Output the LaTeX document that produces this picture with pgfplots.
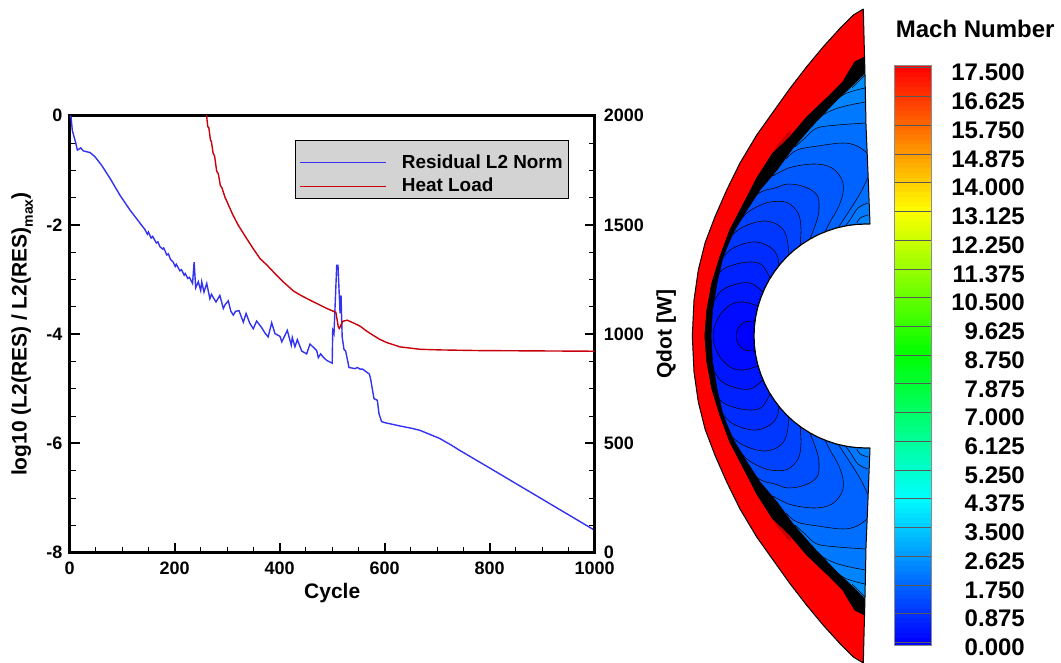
\documentclass[border=0pt]{standalone}
\usepackage{fontspec}
\setmainfont{Liberation Sans}
\usepackage{pgfplots}
\pgfplotsset{compat=1.18}
\definecolor{lvb}{RGB}{0,154,255}
\definecolor{lvn}{RGB}{0,143,255}
\definecolor{lvm}{RGB}{0,132,255}
\definecolor{lvl}{RGB}{0,121,255}
\definecolor{lvk}{RGB}{0,110,255}
\definecolor{lvj}{RGB}{0,99,255}
\definecolor{lvi}{RGB}{0,88,255}
\definecolor{lvh}{RGB}{0,77,255}
\definecolor{lvg}{RGB}{0,66,255}
\definecolor{lvf}{RGB}{0,55,255}
\definecolor{lve}{RGB}{0,44,255}
\definecolor{lvd}{RGB}{0,33,255}
\definecolor{lvc}{RGB}{0,22,255}
\definecolor{lvbb}{RGB}{0,11,255}
\definecolor{lva}{RGB}{0,0,255}
\definecolor{resblue}{RGB}{50,50,240}
\definecolor{heatred}{RGB}{200,0,10}
\newcommand{\fs}[1]{\fontsize{#1}{#1}\selectfont\bfseries}
\pgfplotsset{lev/.style={draw=none,fill=#1,mark=none,forget plot},
 cl/.style={smooth,tension=.6,black,line width=.55pt,mark=none,forget plot},
 mask/.style={draw=none,fill=white,mark=none,forget plot},
 lineaxis/.style={scale only axis,anchor=south west,at={(69.7pt,110.3pt)},width=525pt,height=437pt,
  xmin=0,xmax=1000,
  axis line style={line width=2.5pt},
  tick align=inside,major tick length=10pt,minor tick length=6pt,
  major tick style={black,line width=2pt},minor tick style={black,line width=1pt},
  /pgf/number format/assume math mode=true,/pgf/number format/1000 sep={},
  ticklabel style={font=\fs{18},inner sep=0pt},
  label style={font=\fs{21}}}}
\begin{document}
\begin{tikzpicture}
\path[use as bounding box] (0,0) rectangle (1061pt,663pt);
% contour field, in picture pixels
\begin{axis}[scale only axis,anchor=south west,at={(0pt,0pt)},width=1061pt,height=663pt,
 xmin=0,xmax=1061,ymin=0,ymax=663,y dir=reverse,hide axis]
\addplot[lev=lvb] coordinates {(865,60)(870,224)(870,448)(865,612)(685,612)(685,60)(865,60)};
\addplot[lev=lvn] coordinates {(868,224)(870,221)(868,173)(866,125)(865,75)(858,82)(852,88)(685,88)(685,584)(852,584)(858,590)(865,597)(866,547)(868,499)(870,451)(868,448)(868,224)};
\addplot[lev=lvm] coordinates {(864,224)(870,219)(868,173)(866,125)(865,88)(847,93)(833,102)(824,113)(685,113)(685,559)(824,559)(833,570)(847,579)(865,584)(866,547)(868,499)(870,453)(864,448)(864,224)};
\addplot[lev=lvl] coordinates {(857,223)(860,218)(868,215)(868,173)(866,125)(865,102)(838,108)(820,117)(812,127)(685,127)(685,545)(812,545)(820,555)(838,564)(865,570)(866,547)(868,499)(868,457)(860,454)(857,449)(857,223)};
\addplot[lev=lvk] coordinates {(846,225)(850,220)(858,208)(868,203)(868,173)(866,123)(838,125)(817,128)(805,138)(795,147)(685,147)(685,525)(795,525)(805,534)(817,544)(838,547)(866,549)(868,499)(868,469)(858,464)(850,452)(846,447)(846,225)};
\addplot[lev=lvj] coordinates {(838,228)(853,205)(862,190)(868,177)(867,153)(857,146)(843,143)(818,146)(797,150)(786,159)(685,159)(685,513)(786,513)(797,522)(818,526)(843,529)(857,526)(867,519)(868,495)(862,482)(853,467)(838,444)(838,228)};
\addplot[lev=lvi] coordinates {(825,232)(830,222)(838,208)(843,193)(842,180)(832,168)(815,164)(792,167)(780,172)(773,176)(685,176)(685,496)(773,496)(780,500)(792,505)(815,508)(832,504)(842,492)(843,479)(838,464)(830,450)(825,440)(825,232)};
\addplot[lev=lvh] coordinates {(810,239)(817,220)(819,208)(817,195)(805,187)(788,184)(775,188)(763,191)(752,198)(749,203)(685,203)(685,469)(749,469)(752,474)(763,481)(775,484)(788,488)(805,485)(817,477)(819,464)(817,452)(810,433)(810,239)};
\addplot[lev=lvg] coordinates {(800,246)(801,228)(798,213)(788,203)(775,201.5)(763,204)(748,212)(739,222)(685,222)(685,450)(739,450)(748,460)(763,468)(775,470.5)(788,469)(798,459)(801,444)(800,426)(800,246)};
\addplot[lev=lvf] coordinates {(789,255)(786,235)(778,225)(765,221)(750,224)(738,230)(730,238)(727,244)(685,244)(685,428)(727,428)(730,434)(738,442)(750,448)(765,451)(778,447)(786,437)(789,417)(789,255)};
\addplot[lev=lve] coordinates {(779,266)(777,255)(770,247)(757,242)(743,244)(730,250)(723,258)(720,262)(685,262)(685,410)(720,410)(723,414)(730,422)(743,428)(757,430)(770,425)(777,417)(779,406)(779,266)};
\addplot[lev=lvd] coordinates {(770,278)(762,265)(750,262)(733,265)(720,272)(713,288)(685,288)(685,384)(713,384)(720,400)(733,407)(750,410)(762,407)(770,394)(770,278)};
\addplot[lev=lvc] coordinates {(763,292)(750,283)(733,285)(720,292)(712,305)(685,305)(685,367)(712,367)(720,380)(733,387)(750,389)(763,380)(763,292)};
\addplot[lev=lvbb] coordinates {(758,306)(743,302)(730,305)(718,318)(713,336)(718,354)(730,367)(743,370)(758,366)(758,306)};
\addplot[lev=lva] coordinates {(755,321)(745,322)(739,327)(736,336)(739,345)(745,350)(755,351)(755,321)};
% contour lines
\addplot[cl] coordinates {(865,75)(858,82)(852,88)};
\addplot[cl] coordinates {(865,597)(858,590)(852,584)};
\addplot[cl] coordinates {(865,88)(847,93)(833,102)(824,113)};
\addplot[cl] coordinates {(865,584)(847,579)(833,570)(824,559)};
\addplot[cl] coordinates {(865,102)(838,108)(820,117)(812,127)};
\addplot[cl] coordinates {(865,570)(838,564)(820,555)(812,545)};
\addplot[cl] coordinates {(857,223)(860,218)(868,215)};
\addplot[cl] coordinates {(857,449)(860,454)(868,457)};
\addplot[cl] coordinates {(866,123)(838,125)(817,128)(805,138)(795,147)};
\addplot[cl] coordinates {(866,549)(838,547)(817,544)(805,534)(795,525)};
\addplot[cl] coordinates {(846,225)(850,220)(858,208)(868,203)};
\addplot[cl] coordinates {(846,447)(850,452)(858,464)(868,469)};
\addplot[cl] coordinates {(867,153)(857,146)(843,143)(818,146)(797,150)(786,159)};
\addplot[cl] coordinates {(867,519)(857,526)(843,529)(818,526)(797,522)(786,513)};
\addplot[cl] coordinates {(838,228)(853,205)(862,190)(868,177)};
\addplot[cl] coordinates {(838,444)(853,467)(862,482)(868,495)};
\addplot[cl] coordinates {(825,232)(830,222)(838,208)(843,193)(842,180)(832,168)(815,164)(792,167)(780,172)(773,176)};
\addplot[cl] coordinates {(825,440)(830,450)(838,464)(843,479)(842,492)(832,504)(815,508)(792,505)(780,500)(773,496)};
\addplot[cl] coordinates {(810,239)(817,220)(819,208)(817,195)(805,187)(788,184)(775,188)(763,191)(752,198)(749,203)};
\addplot[cl] coordinates {(810,433)(817,452)(819,464)(817,477)(805,485)(788,488)(775,484)(763,481)(752,474)(749,469)};
\addplot[cl] coordinates {(800,246)(801,228)(798,213)(788,203)(775,201.5)(763,204)(748,212)(739,222)};
\addplot[cl] coordinates {(800,426)(801,444)(798,459)(788,469)(775,470.5)(763,468)(748,460)(739,450)};
\addplot[cl] coordinates {(789,255)(786,235)(778,225)(765,221)(750,224)(738,230)(730,238)(727,244)};
\addplot[cl] coordinates {(789,417)(786,437)(778,447)(765,451)(750,448)(738,442)(730,434)(727,428)};
\addplot[cl] coordinates {(779,266)(777,255)(770,247)(757,242)(743,244)(730,250)(723,258)(720,262)};
\addplot[cl] coordinates {(779,406)(777,417)(770,425)(757,430)(743,428)(730,422)(723,414)(720,410)};
\addplot[cl] coordinates {(770,278)(762,265)(750,262)(733,265)(720,272)(713,288)};
\addplot[cl] coordinates {(770,394)(762,407)(750,410)(733,407)(720,400)(713,384)};
\addplot[cl] coordinates {(763,292)(750,283)(733,285)(720,292)(712,305)};
\addplot[cl] coordinates {(763,380)(750,389)(733,387)(720,380)(712,367)};
\addplot[cl] coordinates {(758,306)(743,302)(730,305)(718,318)(713,336)(718,354)(730,367)(743,370)(758,366)};
\addplot[cl] coordinates {(755,321)(745,322)(739,327)(736,336)(739,345)(745,350)(755,351)};
% white outside of the shape
\addplot[mask] coordinates {(670,0)(863.3,0)(863.3,9)(853.3,15)(840,28.3)(823.3,46.7)(806.7,66.7)(790,88.3)(773.3,111.7)(756.7,135)(740,163)(726.7,190)(715,216.7)(705,243)(698.3,270)(694,300)(692.3,336)(694,372)(698.3,402)(705,429)(715,455.3)(726.7,482)(740,509)(756.7,537)(773.3,560.3)(790,583.7)(806.7,605.3)(823.3,625.3)(840,643.7)(853.3,657)(863.3,663)(670,663)(670,0)};
% red shock layer
\addplot[draw=black,line width=1pt,fill=red,mark=none,forget plot] coordinates {(863.3,9)(853.3,15)(840,28.3)(823.3,46.7)(806.7,66.7)(790,88.3)(773.3,111.7)(756.7,135)(740,163)(726.7,190)(715,216.7)(705,243)(698.3,270)(694,300)(692.3,336)(694,372)(698.3,402)(705,429)(715,455.3)(726.7,482)(740,509)(756.7,537)(773.3,560.3)(790,583.7)(806.7,605.3)(823.3,625.3)(840,643.7)(853.3,657)(863.3,663)(865,615)(855,610)(850,602)(843,590)(827,574)(807,555)(790,535)(773,519)(757,494)(742,465)(730,442)(720,415)(712,389)(707,362)(705,336)(707,310)(712,283)(720,257)(730,230)(742,207)(757,178)(773,153)(790,137)(807,117)(827,98)(843,82)(850,70)(855,62)(865,57)(863.3,9)};
\addplot[draw=none,fill={rgb,255:red,205;green,0;blue,0},mark=none,forget plot] coordinates {(775,148)(789,131)(792,132)(778,151)(775,148)};
\addplot[draw=none,fill={rgb,255:red,205;green,0;blue,0},mark=none,forget plot] coordinates {(775,524)(789,541)(792,540)(778,521)(775,524)};
% black band
\addplot[draw=black,line width=.5pt,fill=black,mark=none,forget plot] coordinates {(865,57)(855,62)(850,70)(843,82)(827,98)(807,117)(790,137)(773,153)(757,178)(742,207)(730,230)(720,257)(712,283)(707,310)(705,336)(707,362)(712,389)(720,415)(730,442)(742,465)(757,494)(773,519)(790,535)(807,555)(827,574)(843,590)(850,602)(855,610)(865,615)(865,599)(853,587)(837,572)(813,547)(793,524)(777,502)(760,482)(745,459)(733,439)(723,415)(717,389)(712.5,362)(711,336)(712.5,310)(717,283)(723,257)(733,233)(745,213)(760,190)(777,170)(793,148)(813,125)(837,100)(853,85)(865,73)(865,57)};
% body
\addplot[draw=black,line width=1.2pt,fill=white,mark=none,forget plot] coordinates {(870,224)(866,224)(856.2,224.4)(846.6,225.7)(837,227.8)(827.7,230.8)(818.7,234.5)(810,239)(801.8,244.3)(794,250.2)(786.8,256.8)(780.2,264)(774.3,271.8)(769,280)(764.5,288.7)(760.8,297.7)(757.8,307)(755.7,316.6)(754.4,326.2)(754,336)(754.4,345.8)(755.7,355.4)(757.8,365)(760.8,374.3)(764.5,383.3)(769,392)(774.3,400.2)(780.2,408)(786.8,415.2)(794,421.8)(801.8,427.7)(810,433)(818.7,437.5)(827.7,441.2)(837,444.2)(846.6,446.3)(856.2,447.6)(866,448)(870,448)};
\addplot[mask] coordinates {(866,225.5)(880,225.5)(880,446.5)(866,446.5)(866,225.5)};
\addplot[mask] coordinates {(863.3,0)(863.3,9)(865,75)(866,125)(868,173)(870,224)(880,224)(880,0)(863.3,0)};
\addplot[mask] coordinates {(863.3,663)(865,597)(866,547)(868,499)(870,448)(880,448)(880,663)(863.3,663)};
\addplot[draw=black,line width=1pt,mark=none,forget plot] coordinates {(863.3,9)(865,75)(866,125)(868,173)(870,224)};
\addplot[draw=black,line width=1pt,mark=none,forget plot] coordinates {(863.3,663)(865,597)(866,547)(868,499)(870,448)};
\end{axis}
% colour scale
\begin{axis}[scale only axis,anchor=south west,at={(894.7pt,18pt)},width=37pt,height=579.7pt,
 xmin=0,xmax=1,ymin=-0.08,ymax=17.573,xtick=\empty,
 ytick={0,0.875,1.75,2.625,3.5,4.375,5.25,6.125,7,7.875,8.75,9.625,10.5,11.375,12.25,13.125,14,14.875,15.75,16.625,17.5},
 ytick pos=right,major tick length=0pt,ymajorgrids,grid style={black!65!white,line width=.6pt},axis on top,
 axis line style={black!45,line width=.7pt},
 colormap={tec}{rgb255=(0,0,255) rgb255=(0,255,255) rgb255=(0,255,0) rgb255=(255,255,0) rgb255=(255,0,0)},
 point meta min=0,point meta max=17.5,
 scaled y ticks=false,
 /pgf/number format/assume math mode=true,
 yticklabel style={/pgf/number format/fixed,/pgf/number format/fixed zerofill,/pgf/number format/precision=3,
  font=\fs{24},anchor=east,inner sep=0pt,xshift=93.3pt,yshift=-5pt},
 title={Mach Number},title style={font=\fs{24},at={(0,1)},anchor=west,inner sep=0pt,xshift=1pt,yshift=30pt}]
\addplot[mesh,point meta=y,line width=37pt,mark=none] coordinates {(.5,-0.08)(.5,.1458)(.5,.2917)(.5,.4375)(.5,.5833)(.5,.7292)(.5,.875)(.5,1.0208)(.5,1.1667)(.5,1.3125)(.5,1.4583)(.5,1.6042)(.5,1.75)(.5,1.8958)(.5,2.0417)(.5,2.1875)(.5,2.3333)(.5,2.4792)(.5,2.625)(.5,2.7708)(.5,2.9167)(.5,3.0625)(.5,3.2083)(.5,3.3542)(.5,3.5)(.5,3.6458)(.5,3.7917)(.5,3.9375)(.5,4.0833)(.5,4.2292)(.5,4.375)(.5,4.5208)(.5,4.6667)(.5,4.8125)(.5,4.9583)(.5,5.1042)(.5,5.25)(.5,5.3958)(.5,5.5417)(.5,5.6875)(.5,5.8333)(.5,5.9792)(.5,6.125)(.5,6.2708)(.5,6.4167)(.5,6.5625)(.5,6.7083)(.5,6.8542)(.5,7)(.5,7.1458)(.5,7.2917)(.5,7.4375)(.5,7.5833)(.5,7.7292)(.5,7.875)(.5,8.0208)(.5,8.1667)(.5,8.3125)(.5,8.4583)(.5,8.6042)(.5,8.75)(.5,8.8958)(.5,9.0417)(.5,9.1875)(.5,9.3333)(.5,9.4792)(.5,9.625)(.5,9.7708)(.5,9.9167)(.5,10.0625)(.5,10.2083)(.5,10.3542)(.5,10.5)(.5,10.6458)(.5,10.7917)(.5,10.9375)(.5,11.0833)(.5,11.2292)(.5,11.375)(.5,11.5208)(.5,11.6667)(.5,11.8125)(.5,11.9583)(.5,12.1042)(.5,12.25)(.5,12.3958)(.5,12.5417)(.5,12.6875)(.5,12.8333)(.5,12.9792)(.5,13.125)(.5,13.2708)(.5,13.4167)(.5,13.5625)(.5,13.7083)(.5,13.8542)(.5,14)(.5,14.1458)(.5,14.2917)(.5,14.4375)(.5,14.5833)(.5,14.7292)(.5,14.875)(.5,15.0208)(.5,15.1667)(.5,15.3125)(.5,15.4583)(.5,15.6042)(.5,15.75)(.5,15.8958)(.5,16.0417)(.5,16.1875)(.5,16.3333)(.5,16.4792)(.5,16.625)(.5,16.7708)(.5,16.9167)(.5,17.0625)(.5,17.2083)(.5,17.3542)(.5,17.573)};
\end{axis}
% residual
\begin{axis}[lineaxis,ymin=-8,ymax=0,
 xtick={0,200,400,600,800,1000},minor x tick num=3,xtick pos=bottom,
 ytick={-8,-6,-4,-2,0},minor y tick num=3,ytick pos=left,
 xticklabel style={yshift=-9.5pt},yticklabel style={xshift=-7pt},
 xlabel={Cycle},xlabel style={yshift=-5pt},
 ylabel={log10 (L2(RES) / L2(RES)\raisebox{-.3em}{\fontsize{14}{14}\selectfont max})},ylabel style={yshift=10pt}]
\addplot[resblue,line width=1.4pt,mark=none] coordinates {(0,0)(2.5,-.02)(5,-.27)(11,-.48)(14.6,-.63)(21,-.59)(26,-.645)(39,-.675)(48,-.75)(61,-.91)(77,-1.15)(96,-1.46)(115,-1.73)(143,-2.08)(148,-2.17)(150,-2.13)(155,-2.24)(158,-2.21)(165,-2.33)(168,-2.31)(172,-2.4)(177,-2.44)(179,-2.42)(185,-2.55)(188,-2.53)(192,-2.63)(197,-2.68)(201,-2.76)(203,-2.72)(210,-2.84)(213,-2.82)(218,-2.92)(220,-2.89)(225,-2.98)(228,-2.96)(234,-3.07)(237,-2.68)(240,-3.15)(245,-3.04)(249.5,-3.2)(251.5,-3.04)(255.8,-3.23)(261,-3.07)(267,-3.35)(270,-3.27)(273.6,-3.33)(278.7,-3.41)(286,-3.29)(292.6,-3.53)(296,-3.46)(302,-3.39)(307,-3.58)(311.6,-3.65)(316,-3.58)(322.5,-3.57)(330.7,-3.78)(336,-3.62)(343,-3.8)(349.7,-3.9)(356,-3.76)(365.7,-3.88)(372,-3.98)(378,-4.05)(384.7,-3.79)(391,-3.99)(400.6,-4.04)(404,-4.14)(414.5,-3.93)(422,-4.2)(424,-4.06)(429,-4.23)(433.6,-4.1)(442,-4.31)(451.4,-4.36)(457.7,-4.18)(470.4,-4.3)(473.6,-4.43)(478,-4.36)(482,-4.41)(489.5,-4.48)(500,-4.53)(501,-3.93)(503.4,-3.99)(508.6,-2.74)(511,-2.74)(515,-3.62)(516.8,-3.29)(519,-4.05)(522.5,-4.28)(525.7,-4.31)(532,-4.61)(543.4,-4.63)(548,-4.61)(553,-4.64)(558,-4.64)(570.7,-4.73)(573,-4.81)(579.6,-5.18)(586,-5.21)(589,-5.45)(594,-5.6)(600.6,-5.62)(629,-5.68)(650,-5.72)(667,-5.76)(685,-5.83)(705,-5.91)(725,-6.02)(743.4,-6.13)(800,-6.45)(900,-7.02)(1000,-7.59)};
\end{axis}
% heat load
\begin{axis}[lineaxis,ymin=0,ymax=2000,
 hide x axis,axis y line*=right,
 ytick={0,500,1000,1500,2000},minor y tick num=3,
 yticklabel style={xshift=9pt},
 ylabel={Qdot [W]},ylabel style={yshift=-9pt},
 legend cell align=left,
 legend style={at={(0.429,0.944)},anchor=north west,draw=black,line width=.7pt,fill={rgb,255:red,211;green,211;blue,211},
  font=\fs{18.9},inner xsep=4pt,inner ysep=4pt,row sep=3.4pt,/tikz/column 2/.style={column sep=0pt}},
 legend image code/.code={\draw[#1] (0pt,0pt)--(86pt,0pt);}]
\addlegendimage{resblue,line width=1.2pt,yshift=-4pt}
\addlegendentry{\hspace{13.5pt}\rule{0pt}{22pt}Residual L2 Norm}
\addlegendimage{heatred,line width=1.2pt,yshift=-1.5pt}
\addlegendentry{\hspace{13.5pt}Heat Load}
\addplot[heatred,line width=1.4pt,mark=none,forget plot] coordinates {(258,2030)(261,1995)(263,1950)(265,1945)(268,1890)(270,1880)(273,1830)(276,1815)(280,1745)(283,1735)(287,1680)(290,1670)(296,1625)(299,1610)(310,1550)(321,1499)(337,1438)(350,1390)(362.5,1346)(375,1318)(388,1285)(407,1239)(426,1198)(440,1178)(457.7,1156)(489.5,1118)(507,1100)(511.6,1033)(513.5,1026)(520,1059)(528.7,1064)(540,1052)(553,1037)(565,1015)(578,995)(590,977)(603.7,962)(629,942)(667,931)(705,928)(781.5,925)(1000,922)};
\end{axis}
\end{tikzpicture}
\end{document}
